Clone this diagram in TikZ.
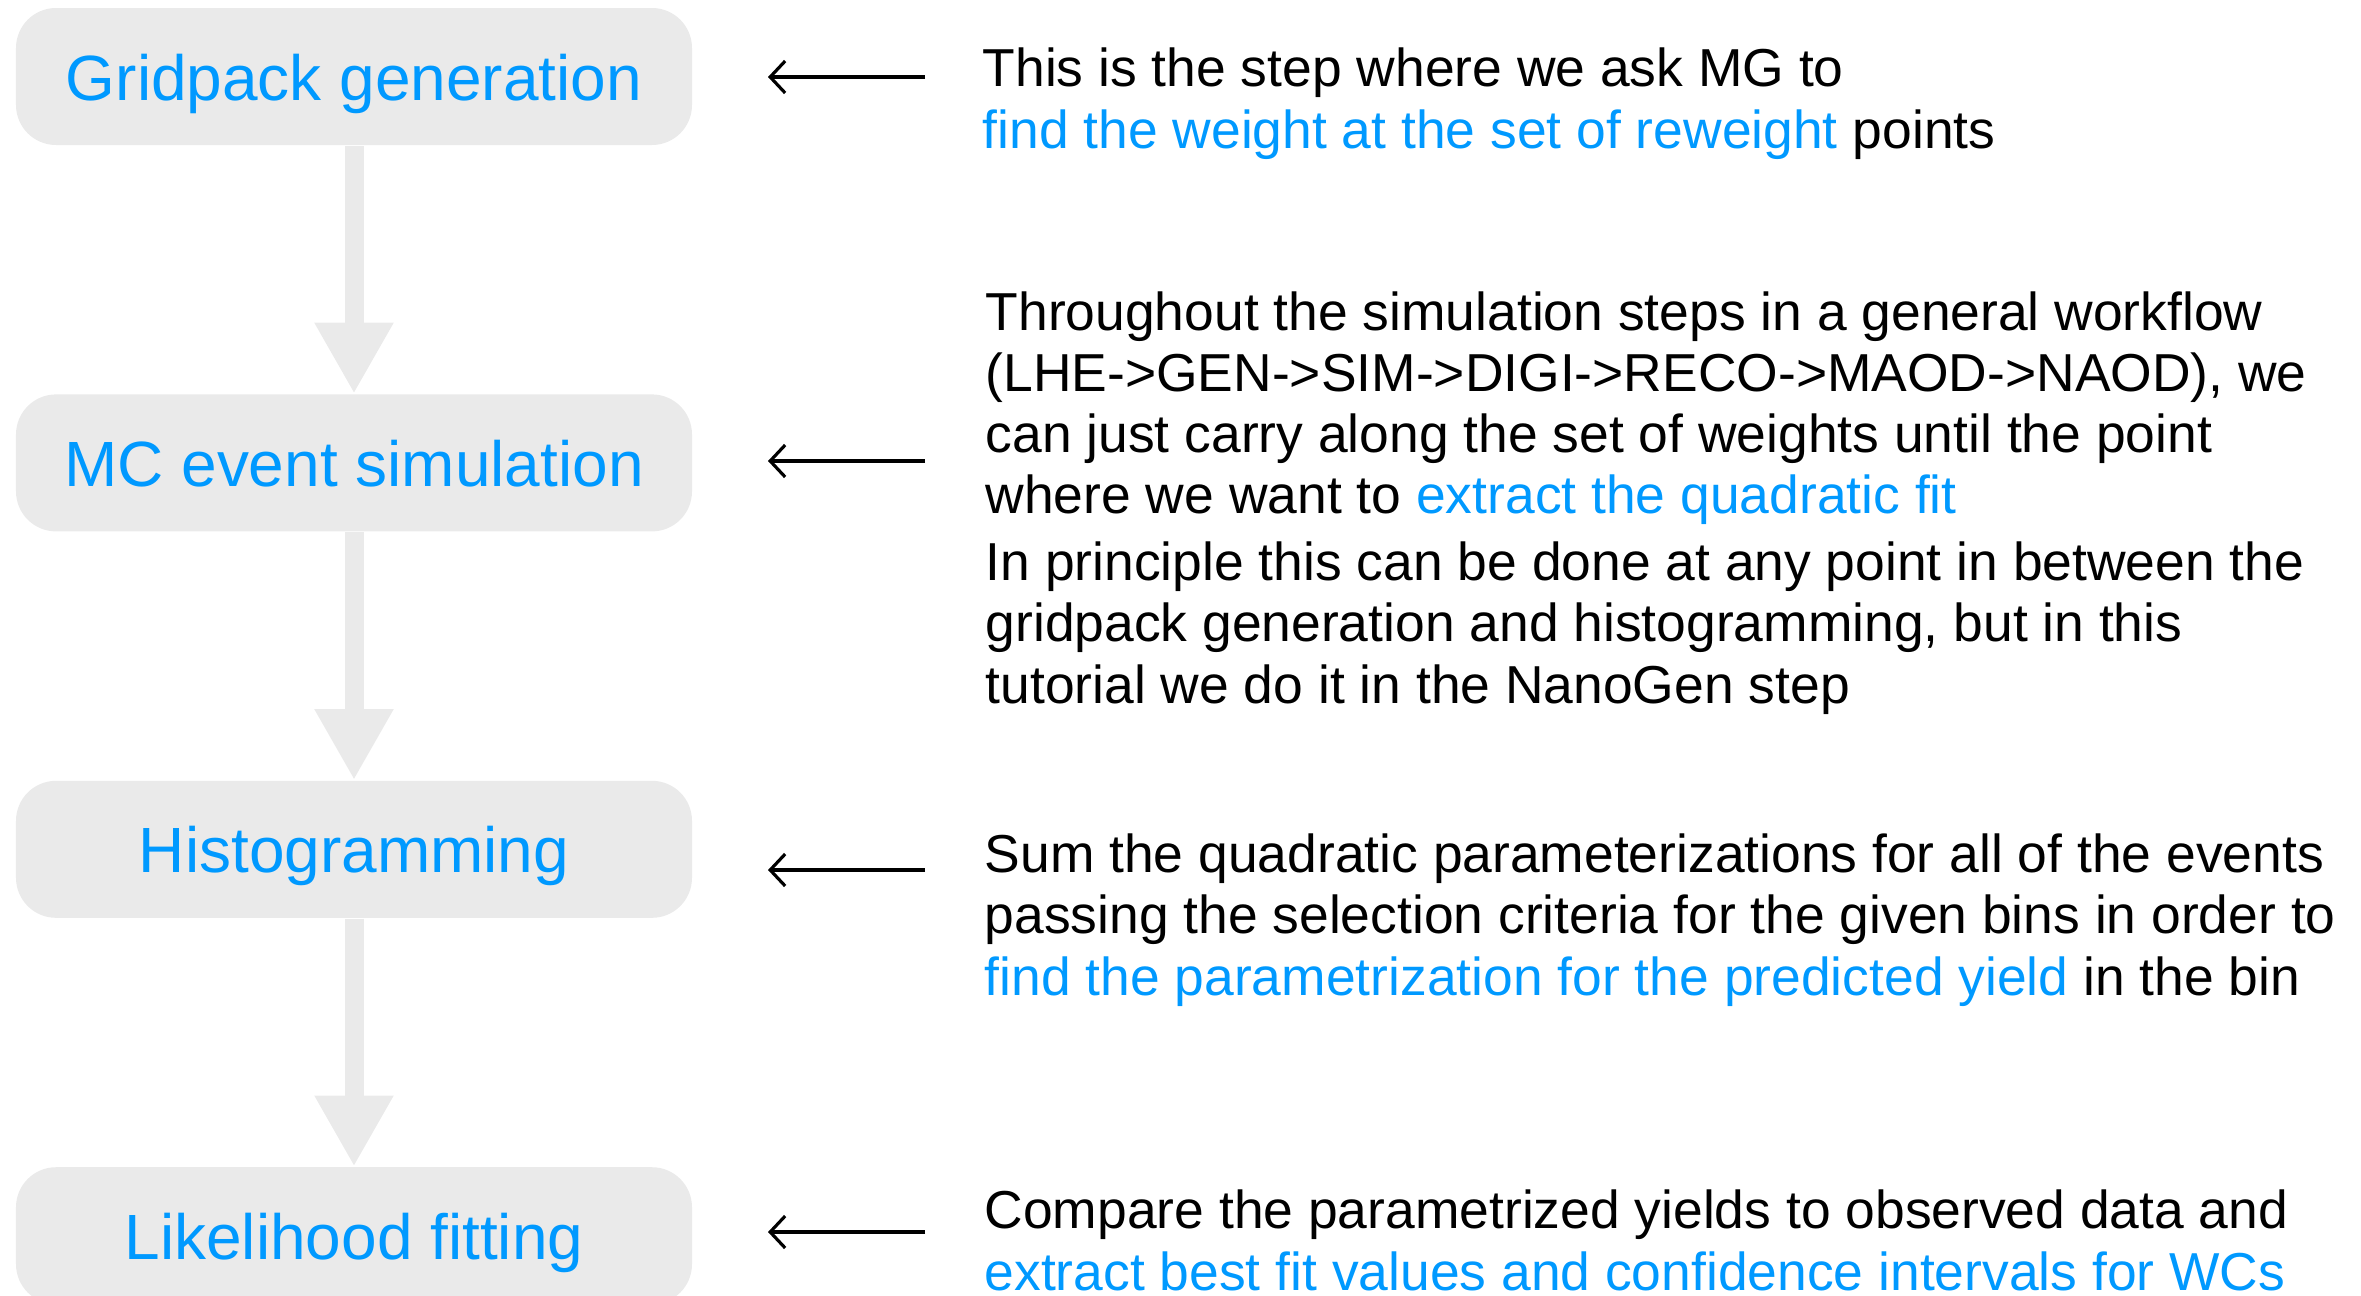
\documentclass[tikz,border=0pt]{standalone}
\usepackage{fontspec}
\setmainfont{Liberation Sans}
\usetikzlibrary{arrows.meta,positioning}

\definecolor{stepblue}{RGB}{0,153,255}
\definecolor{stepgrey}{RGB}{234,234,234}
\newcommand{\hl}[1]{\textcolor{stepblue}{#1}}

\tikzset{
  stepbox/.style={fill=stepgrey,rounded corners=0.4cm,minimum width=6.76cm,
    minimum height=1.37cm,inner sep=0pt,text=stepblue,
    font=\fontsize{18.2}{22}\selectfont,text height=0.47cm,text depth=0cm},
  flow/.style={draw=stepgrey,line width=0.19cm,
    -{Triangle[width=0.74cm,length=0.71cm]}},
  pointer/.style={line width=0.9pt,-{Straight Barb[length=0.15cm,width=0.32cm]}},
  note/.style={anchor=base west,align=left,inner sep=0pt,
    font=\fontsize{15.2}{17.4}\selectfont}
}

\begin{document}
\begin{tikzpicture}
    \useasboundingbox (0,0) rectangle (23.61,-12.96);
    % workflow
    \node[stepbox] (gen) at (3.54,-0.765) {Gridpack generation};
    \node[stepbox,below=2.48cm of gen] (sim) {MC event simulation};
    \node[stepbox,below=2.48cm of sim] (hist) {Histogramming};
    \node[stepbox,below=2.48cm of hist] (fit) {Likelihood fitting};
    \draw[flow] (gen) -- (sim);
    \draw[flow] (sim) -- (hist);
    \draw[flow] (hist) -- (fit);
    % pointers
    \foreach \n/\y in {1/0.77,2/4.61,3/8.70,4/12.32}
    {\coordinate (s\n) at (9.25,-\y);
     \coordinate (e\n) at (7.68,-\y);
     \draw[pointer] (s\n) -- (e\n);}
    % notes (anchored at the baseline of their last line)
    \node[note] (note1) at (9.82,-1.48)
      {This is the step where we ask MG to\\
       \hl{find the weight at the set of reweight} points};
    \node[note] (note2) at (9.85,-7.03)
      {Throughout the simulation steps in a general workflow\\
       (LHE->GEN->SIM->DIGI->RECO->MAOD->NAOD), we\\
       can just carry along the set of weights until the point\\
       where we want to \hl{extract the quadratic fit}\\[0.06cm]
       In principle this can be done at any point in between the\\
       gridpack generation and histogramming, but in this\\
       tutorial we do it in the NanoGen step};
    \node[note] (note3) at (9.84,-9.95)
      {Sum the quadratic parameterizations for all of the events\\
       passing the selection criteria for the given bins in order to\\
       \hl{find the parametrization for the predicted yield} in the bin};
    \node[note] (note4) at (9.84,-12.90)
      {Compare the parametrized yields to observed data and\\
       \hl{extract best fit values and confidence intervals for WCs}};
\end{tikzpicture}
\end{document}
